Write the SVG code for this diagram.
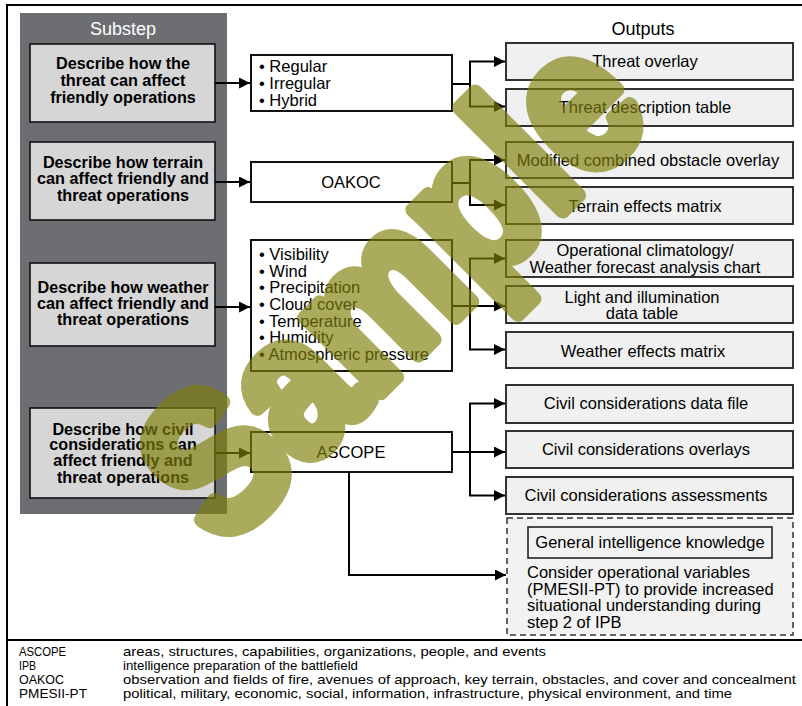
<svg xmlns="http://www.w3.org/2000/svg" width="802" height="706" viewBox="0 0 802 706">
<style>
text{font-family:"Liberation Sans",Arial,sans-serif;fill:#000}
.sub{fill:#d6d6d6;stroke:#111;stroke-width:1.6}
.st{font-size:16.2px;font-weight:bold;text-anchor:middle}
.mid{fill:#fff;stroke:#111;stroke-width:2}
.mt{font-size:16.5px}
.out{fill:#f0f0f0;stroke:#333;stroke-width:2}
.ot{font-size:16.5px;text-anchor:middle}
.hd{font-size:18px;text-anchor:middle}
.con{fill:none;stroke:#000;stroke-width:2}
.lg{font-size:13.5px}
</style>
<defs>
<marker id="ah" markerUnits="userSpaceOnUse" viewBox="0 0 11 11" refX="11" refY="5.5" markerWidth="11" markerHeight="11" orient="auto">
<path d="M0,0 L11,5.5 L0,11 z" fill="#000"/>
</marker>
</defs>
<rect width="802" height="706" fill="#fff"/>
<g id="frame" fill="none" stroke="#000" stroke-width="2">
<path d="M7,706 V5 H802"/>
<path d="M7,640 H802"/>
</g>
<g id="substep-panel">
<rect x="20" y="13" width="207" height="501" fill="#6d6e71"/>
<text class="hd" x="123" y="35" style="fill:#fff">Substep</text>
</g>
<g id="substep1">
<rect class="sub" x="30" y="44" width="185" height="78"/>
<text class="st" x="123" y="69">Describe how the</text>
<text class="st" x="123" y="86">threat can affect</text>
<text class="st" x="123" y="103">friendly operations</text>
</g>
<g id="substep2">
<rect class="sub" x="30" y="142" width="185" height="78"/>
<text class="st" x="123" y="168">Describe how terrain</text>
<text class="st" x="123" y="184">can affect friendly and</text>
<text class="st" x="123" y="201">threat operations</text>
</g>
<g id="substep3">
<rect class="sub" x="30" y="263" width="185" height="83"/>
<text class="st" x="123" y="293">Describe how weather</text>
<text class="st" x="123" y="309">can affect friendly and</text>
<text class="st" x="123" y="325">threat operations</text>
</g>
<g id="substep4">
<rect class="sub" x="30" y="408" width="185" height="90"/>
<text class="st" x="123" y="435">Describe how civil</text>
<text class="st" x="123" y="450">considerations can</text>
<text class="st" x="123" y="466">affect friendly and</text>
<text class="st" x="123" y="483">threat operations</text>
</g>
<g id="threat-types">
<rect class="mid" x="251" y="55" width="201" height="56"/>
<text class="mt" x="259" y="72">• Regular</text>
<text class="mt" x="259" y="89">• Irregular</text>
<text class="mt" x="259" y="106">• Hybrid</text>
</g>
<g id="oakoc">
<rect class="mid" x="251" y="162" width="201" height="40"/>
<text class="mt" x="351" y="188" text-anchor="middle">OAKOC</text>
</g>
<g id="weather-factors">
<rect class="mid" x="251" y="240" width="201" height="131"/>
<text class="mt" x="259" y="260">• Visibility</text>
<text class="mt" x="259" y="277">• Wind</text>
<text class="mt" x="259" y="293">• Precipitation</text>
<text class="mt" x="259" y="310">• Cloud cover</text>
<text class="mt" x="259" y="327">• Temperature</text>
<text class="mt" x="259" y="343">• Humidity</text>
<text class="mt" x="259" y="360">• Atmospheric pressure</text>
</g>
<g id="ascope">
<rect class="mid" x="251" y="432" width="201" height="40"/>
<text class="mt" x="351" y="458" text-anchor="middle">ASCOPE</text>
</g>
<g id="outputs-header">
<text class="hd" x="643" y="35">Outputs</text>
</g>
<g id="out1"><rect class="out" x="506" y="43" width="287" height="37"/><text class="ot" x="645" y="67">Threat overlay</text></g>
<g id="out2"><rect class="out" x="506" y="89" width="287" height="37"/><text class="ot" x="645" y="113">Threat description table</text></g>
<g id="out3"><rect class="out" x="506" y="142" width="287" height="36"/><text class="ot" x="648" y="166">Modified combined obstacle overlay</text></g>
<g id="out4"><rect class="out" x="506" y="187" width="287" height="37"/><text class="ot" x="645" y="212">Terrain effects matrix</text></g>
<g id="out5"><rect class="out" x="506" y="240" width="287" height="37"/><text class="ot" x="645" y="256">Operational climatology/</text><text class="ot" x="645" y="273">Weather forecast analysis chart</text></g>
<g id="out6"><rect class="out" x="506" y="286" width="287" height="37"/><text class="ot" x="642" y="303">Light and illumination</text><text class="ot" x="642" y="319">data table</text></g>
<g id="out7"><rect class="out" x="506" y="332" width="287" height="36"/><text class="ot" x="643" y="357">Weather effects matrix</text></g>
<g id="out8"><rect class="out" x="506" y="385" width="287" height="38"/><text class="ot" x="646" y="409">Civil considerations data file</text></g>
<g id="out9"><rect class="out" x="506" y="431" width="287" height="37"/><text class="ot" x="646" y="455">Civil considerations overlays</text></g>
<g id="out10"><rect class="out" x="506" y="477" width="287" height="37"/><text class="ot" x="646" y="501">Civil considerations assessments</text></g>
<g id="general-intel">
<rect x="507" y="518" width="286" height="117" fill="#f2f2f2" stroke="#333" stroke-width="1.5" stroke-dasharray="6,4"/>
<rect x="528" y="527" width="244" height="31" fill="#f2f2f2" stroke="#222" stroke-width="1.6"/>
<text class="ot" x="650" y="548">General intelligence knowledge</text>
<text class="mt" x="527" y="578">Consider operational variables</text>
<text class="mt" x="527" y="595">(PMESII-PT) to provide increased</text>
<text class="mt" x="527" y="611">situational understanding during</text>
<text class="mt" x="527" y="628">step 2 of IPB</text>
</g>
<g id="connectors">
<path class="con" d="M215,83 H250" marker-end="url(#ah)"/>
<path class="con" d="M215,182 H250" marker-end="url(#ah)"/>
<path class="con" d="M215,307 H250" marker-end="url(#ah)"/>
<path class="con" d="M215,453 H250" marker-end="url(#ah)"/>
<path class="con" d="M452,84 H470 V61.5 H505" marker-end="url(#ah)"/>
<path class="con" d="M470,84 V106.5 H505" marker-end="url(#ah)"/>
<path class="con" d="M452,183 H470 V160 H505" marker-end="url(#ah)"/>
<path class="con" d="M470,183 V205 H505" marker-end="url(#ah)"/>
<path class="con" d="M452,306 H505" marker-end="url(#ah)"/>
<path class="con" d="M470,306 V258.5 H505" marker-end="url(#ah)"/>
<path class="con" d="M470,306 V349.5 H505" marker-end="url(#ah)"/>
<path class="con" d="M452,452 H505" marker-end="url(#ah)"/>
<path class="con" d="M470,452 V403.5 H505" marker-end="url(#ah)"/>
<path class="con" d="M470,452 V495.5 H505" marker-end="url(#ah)"/>
<path class="con" d="M349,472 V575 H506" marker-end="url(#ah)"/>
</g>
<g id="legend">
<text class="lg" x="19" y="656" textLength="47" lengthAdjust="spacingAndGlyphs">ASCOPE</text>
<text class="lg" x="123" y="656" textLength="423" lengthAdjust="spacingAndGlyphs">areas, structures, capabilities, organizations, people, and events</text>
<text class="lg" x="19" y="670" textLength="17" lengthAdjust="spacingAndGlyphs">IPB</text>
<text class="lg" x="123" y="670" textLength="235" lengthAdjust="spacingAndGlyphs">intelligence preparation of the battlefield</text>
<text class="lg" x="19" y="684" textLength="45" lengthAdjust="spacingAndGlyphs">OAKOC</text>
<text class="lg" x="123" y="684" textLength="673" lengthAdjust="spacingAndGlyphs">observation and fields of fire, avenues of approach, key terrain, obstacles, and cover and concealment</text>
<text class="lg" x="19" y="698" textLength="68" lengthAdjust="spacingAndGlyphs">PMESII-PT</text>
<text class="lg" x="123" y="698" textLength="609" lengthAdjust="spacingAndGlyphs">political, military, economic, social, information, infrastructure, physical environment, and time</text>
</g>
<g id="watermark" opacity="0.66">
<text x="388" y="355" transform="rotate(-45 388 283)" text-anchor="middle" textLength="610" lengthAdjust="spacingAndGlyphs" style="font-family:'Liberation Sans',Arial,sans-serif;font-size:200px;font-weight:bold;fill:#80800a;stroke:#80800a;stroke-width:16;stroke-linejoin:round">Sample</text>
</g>
</svg>
